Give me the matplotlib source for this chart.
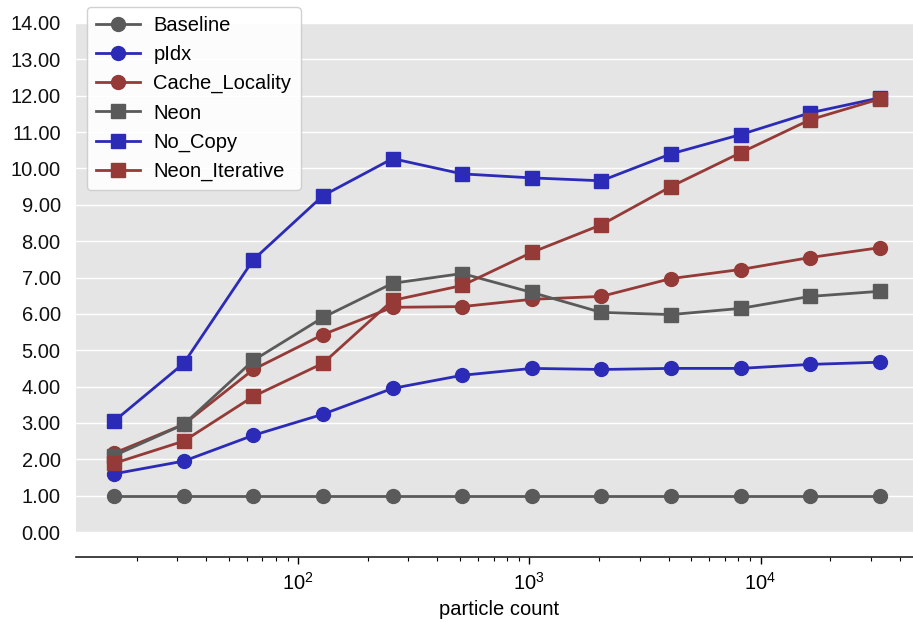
import matplotlib
matplotlib.use("Agg")
import matplotlib.pyplot as plt
from matplotlib.ticker import FormatStrFormatter

plt.rcParams['font.family'] = ['Liberation Sans', 'DejaVu Sans']
plt.rcParams['mathtext.fontset'] = 'custom'
plt.rcParams['mathtext.rm'] = 'Liberation Sans'
plt.rcParams['mathtext.it'] = 'Liberation Sans:italic'
plt.rcParams['mathtext.bf'] = 'Liberation Sans:bold'

particles = [16, 32, 64, 128, 256, 512, 1024, 2048, 4096, 8192, 16384, 32768]
baseline = [1.0] * 12
pidx = [1.60, 1.95, 2.66, 3.24, 3.95, 4.31, 4.50, 4.47, 4.50, 4.50, 4.61, 4.67]
cache_locality = [2.17, 2.96, 4.47, 5.43, 6.18, 6.20, 6.40, 6.48, 6.97, 7.22, 7.55, 7.82]
neon = [2.10, 2.96, 4.72, 5.90, 6.84, 7.11, 6.59, 6.04, 5.98, 6.15, 6.48, 6.62]
no_copy = [3.05, 4.64, 7.49, 9.25, 10.27, 9.85, 9.74, 9.66, 10.40, 10.93, 11.53, 11.94]
neon_iterative = [1.89, 2.50, 3.73, 4.64, 6.37, 6.78, 7.69, 8.45, 9.50, 10.43, 11.34, 11.91]

series = [
    ("Baseline", baseline, "#5a5a5a", "o"),
    ("pIdx", pidx, "#2b2bb7", "o"),
    ("Cache_Locality", cache_locality, "#953a36", "o"),
    ("Neon", neon, "#5a5a5a", "s"),
    ("No_Copy", no_copy, "#2b2bb7", "s"),
    ("Neon_Iterative", neon_iterative, "#953a36", "s"),
]

FS = 14.5

fig = plt.figure(figsize=(9.13, 6.22), dpi=100)
ax = fig.add_axes([76/913, 1-532/622, 1-76/913 + 0.01, (532-23)/622])
ax.set_facecolor("#e5e5e5")

for name, vals, color, mk in series:
    ax.plot(particles, vals, color=color, marker=mk, ms=10, lw=2, label=name, zorder=3)

ax.set_xscale('log')
ax.set_xlim(10.94, 50000)
ax.set_ylim(0, 14)
ax.set_yticks(range(0, 15))
ax.yaxis.set_major_formatter(FormatStrFormatter('%.2f'))
ax.grid(axis='y', color='white', lw=1)
ax.grid(axis='x', visible=False)
ax.set_axisbelow(True)

for s in ['top', 'right', 'left']:
    ax.spines[s].set_visible(False)
ax.spines['bottom'].set_position(('outward', 18))
ax.spines['bottom'].set_color('#222222')
ax.spines['bottom'].set_linewidth(1.2)

ax.tick_params(axis='y', length=0, pad=11, labelsize=FS, colors='#111111')
ax.tick_params(axis='x', which='major', length=5, width=1, direction='out', labelsize=FS, pad=6)
ax.tick_params(axis='x', which='minor', length=3, width=0.8, direction='out')
ax.set_xlabel("particle count", fontsize=FS, labelpad=4)

leg = ax.legend(loc='upper left', bbox_to_anchor=(87/913, 1-7/622), bbox_transform=fig.transFigure,
                borderaxespad=0, fontsize=FS, labelspacing=0.5, handlelength=2.2,
                handletextpad=0.65, borderpad=0.45, frameon=True, fancybox=True,
                framealpha=0.9, edgecolor='#cccccc', facecolor='white')
leg.set_zorder(5)

fig.savefig("out.png", dpi=100)
